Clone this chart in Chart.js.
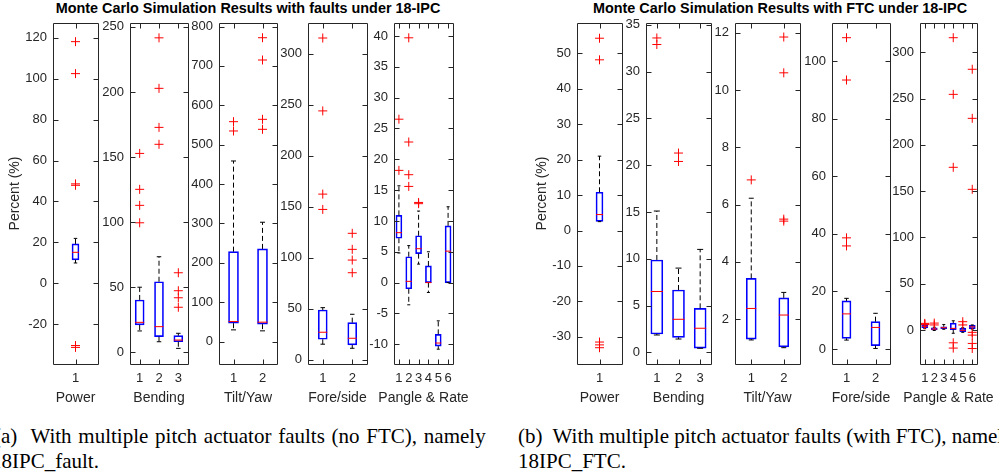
<!DOCTYPE html>
<html>
<head>
<meta charset="utf-8">
<script src="https://cdn.jsdelivr.net/npm/chart.js@4.4.1/dist/chart.umd.min.js"></script>
<style>
  html, body { margin: 0; padding: 0; background: #fff; }
  body { width: 999px; height: 476px; position: relative; overflow: hidden; }
  canvas { position: absolute; }
  .title { position: absolute; top: 0px; font: bold 14.4px "Liberation Sans", Arial, sans-serif; color: #000;
           white-space: nowrap; transform: translateX(-50%); }
  .cap { position: absolute; font: 21px "Liberation Serif", "Times New Roman", serif; color: #000;
         white-space: pre; line-height: 25px; }
</style>
</head>
<body>
<div class="title" style="left:248px">Monte Carlo Simulation Results with faults under 18-IPC</div>
<div class="title" style="left:780px">Monte Carlo Simulation Results with FTC under 18-IPC</div>
<div class="cap" style="left:-6px; top:424px; word-spacing:1.5px">(a)  With multiple pitch actuator faults (no FTC), namely</div>
<div class="cap" style="left:-9px; top:449px">18IPC_fault.</div>
<div class="cap" style="left:518px; top:424px">(b)  With multiple pitch actuator faults (with FTC), namely
18IPC_FTC.</div>

<script>
// Box statistics per signal: [lower whisker, Q1, median, Q3, upper whisker]
// ---- (a) faults, no FTC ----
const faultPowerStats = [[10, 11.5, 15.2, 19.3, 22]];
const faultPowerOutliers = [[118, 102.4, 48.6, 47.9, -30.3, -31.2]];

const faultBendingStats = [
  [16.4, 21, 23, 40.2, 50],
  [8.1, 12, 19.7, 54.2, 73.4],
  [3, 8.1, 9.4, 12.8, 14.6]
];
const faultBendingOutliers = [
  [152.8, 125.2, 112.9, 99.5],
  [241.6, 202.8, 172.8, 159.8],
  [61.1, 47.3, 41.9, 34.6]
];

const faultTiltYawStats = [
  [29.7, 46.7, 50.8, 228.4, 458.6],
  [27.2, 44.2, 49.2, 235.3, 303]
];
const faultTiltYawOutliers = [
  [558.4, 534.8],
  [771.6, 715, 564.4, 539]
];

const faultForeSideStats = [
  [15.4, 20.2, 27.1, 48.9, 51.2],
  [11.4, 14.7, 21.2, 36.5, 44.7]
];
const faultForeSideOutliers = [
  [315.3, 243.9, 162.4, 147.4],
  [124, 108.3, 97.8, 85.4]
];

const faultPangleStats = [
  [4.8, 7.2, 8.1, 10.9, 15.7],
  [-3.6, -1.0, 0.2, 4.2, 6.0],
  [3.0, 4.7, 5.5, 7.6, 11.6],
  [-1.6, 0, 0, 2.7, 5.0],
  [-10.8, -10.3, -9.8, -8.4, -6.2],
  [0, 0, 5.1, 9.2, 12.3]
];
const faultPangleOutliers = [
  [26.5, 18.2],
  [39.7, 22.8, 17.5, 15.6],
  [13.0, 12.8],
  [],
  [],
  []
];

// ---- (b) with FTC ----
const ftcPowerStats = [[2.5, 2.6, 4.5, 10.8, 21]];
const ftcPowerOutliers = [[54.3, 48.2, -31.5, -32.3, -33.1]];

const ftcBendingStats = [
  [1.85, 1.96, 6.5, 9.87, 15.1],
  [1.42, 1.6, 3.53, 6.66, 9.0],
  [0.43, 0.45, 2.57, 4.7, 11.0]
];
const ftcBendingOutliers = [
  [33.6, 32.9],
  [21.3, 20.4],
  []
];

const ftcTiltYawStats = [
  [1.27, 1.30, 2.37, 3.42, 6.22],
  [1.0, 1.03, 2.14, 2.74, 2.93]
];
const ftcTiltYawOutliers = [
  [6.86],
  [11.85, 10.6, 5.49, 5.42]
];

const ftcForeSideStats = [
  [3.1, 3.7, 12.2, 16.7, 17.6],
  [0.2, 1.2, 7.5, 9.5, 12.4]
];
const ftcForeSideOutliers = [
  [108.1, 93.4, 38.6, 35.8],
  []
];

const ftcPangleStats = [
  [1.5, 2.5, 4, 5.5, 6.5],
  [-0.5, 0, 1, 2.5, 3],
  [0.8, 1.5, 2.5, 3.5, 6],
  [-3.5, 0.5, 1.8, 7.5, 10],
  [-2.5, -1.8, -0.3, 1.8, 2.5],
  [1, 1.5, 3.4, 5, 5.5]
];
const ftcPangleOutliers = [
  [7.2, 6.4, 5.8],
  [7.5, 5.5],
  [],
  [315.8, 254.6, 175.8, -13.8, -19.5],
  [9, 5.5],
  [281.7, 228.7, 152, -2.5, -5.5, -14.5, -20]
];

// Category and tick labels
const cats1 = ['1'];
const cats2 = ['1', '2'];
const cats3 = ['1', '2', '3'];
const cats6 = ['1', '2', '3', '4', '5', '6'];

const faultPowerTicks = [-20, 0, 20, 40, 60, 80, 100, 120];
const faultBendingTicks = [0, 50, 100, 150, 200, 250];
const faultTiltYawTicks = [0, 100, 200, 300, 400, 500, 600, 700, 800];
const faultForeSideTicks = [0, 50, 100, 150, 200, 250, 300];
const faultPangleTicks = [-10, -5, 0, 5, 10, 15, 20, 25, 30, 35, 40];

const ftcPowerTicks = [-30, -20, -10, 0, 10, 20, 30, 40, 50];
const ftcBendingTicks = [0, 5, 10, 15, 20, 25, 30, 35];
const ftcTiltYawTicks = [2, 4, 6, 8, 10, 12];
const ftcForeSideTicks = [0, 20, 40, 60, 80, 100];
const ftcPangleTicks = [0, 50, 100, 150, 200, 250, 300];

const axisLabels = ['Power', 'Bending', 'Tilt/Yaw', 'Fore/side', 'Pangle & Rate'];

// Panel layout (axes box edges in page pixels) and axis limits
const panels = [
  { left: 53,  right: 98,  yMin: -39.3, yMax: 127.1, ticks: faultPowerTicks,    cats: cats1, stats: faultPowerStats,    outliers: faultPowerOutliers,    label: axisLabels[0], boxW: 7,  yTitle: true, yTitlePad: 6.6 },
  { left: 130, right: 188, yMin: -9,    yMax: 253,   ticks: faultBendingTicks,  cats: cats3, stats: faultBendingStats,  outliers: faultBendingOutliers,  label: axisLabels[1], boxW: 9 },
  { left: 219, right: 277, yMin: -57,   yMax: 809,   ticks: faultTiltYawTicks,  cats: cats2, stats: faultTiltYawStats,  outliers: faultTiltYawOutliers,  label: axisLabels[2], boxW: 10 },
  { left: 308, right: 367, yMin: -4,    yMax: 330,   ticks: faultForeSideTicks, cats: cats2, stats: faultForeSideStats, outliers: faultForeSideOutliers, label: axisLabels[3], boxW: 9 },
  { left: 394, right: 453, yMin: -13.2, yMax: 42.1,  ticks: faultPangleTicks,   cats: cats6, stats: faultPangleStats,   outliers: faultPangleOutliers,   label: axisLabels[4], boxW: 6 },
  { left: 577, right: 622, yMin: -37.7, yMax: 58.6,  ticks: ftcPowerTicks,      cats: cats1, stats: ftcPowerStats,      outliers: ftcPowerOutliers,      label: axisLabels[0], boxW: 7,  yTitle: true, yTitlePad: 9.3 },
  { left: 646, right: 711, yMin: -1.25, yMax: 35.2,  ticks: ftcBendingTicks,    cats: cats3, stats: ftcBendingStats,    outliers: ftcBendingOutliers,    label: axisLabels[1], boxW: 12 },
  { left: 735, right: 800, yMin: 0.43,  yMax: 12.34, ticks: ftcTiltYawTicks,    cats: cats2, stats: ftcTiltYawStats,    outliers: ftcTiltYawOutliers,    label: axisLabels[2], boxW: 10 },
  { left: 832, right: 890, yMin: -5.2,  yMax: 113.2, ticks: ftcForeSideTicks,   cats: cats2, stats: ftcForeSideStats,   outliers: ftcForeSideOutliers,   label: axisLabels[3], boxW: 9 },
  { left: 920, right: 977, yMin: -36.7, yMax: 331.7, ticks: ftcPangleTicks,     cats: cats6, stats: ftcPangleStats,     outliers: ftcPangleOutliers,     label: axisLabels[4], boxW: 6 }
];

const FONT_FAMILY = '"Liberation Sans", Arial, Helvetica, sans-serif';
Chart.defaults.font.family = FONT_FAMILY;
Chart.defaults.color = '#262626';

const AXIS_COLOR = '#262626';
const TICK_LEN = 5;
const AREA_TOP = 23, AREA_BOTTOM = 364, CANVAS_TOP = 13, CANVAS_BOTTOM = 410;
const XTITLE_Y = 398;
const PAD_TOP = AREA_TOP - CANVAS_TOP, PAD_RIGHT = 22;

// Boxed axes with inward tick marks on all four sides, plus the x-axis caption
const boxedAxes = {
  id: 'boxedAxes',
  afterDraw(chart, args, opts) {
    const { ctx, chartArea: a, scales: { x, y } } = chart;
    const L = Math.round(a.left) + 0.5, R = Math.round(a.right) + 0.5;
    const T = Math.round(a.top) + 0.5, B = Math.round(a.bottom) + 0.5;
    ctx.save();
    ctx.strokeStyle = AXIS_COLOR;
    ctx.lineWidth = 1;
    ctx.beginPath();
    y.ticks.forEach(t => {
      const py = Math.round(y.getPixelForValue(t.value)) + 0.5;
      ctx.moveTo(L, py); ctx.lineTo(L + TICK_LEN, py);
      ctx.moveTo(R, py); ctx.lineTo(R - TICK_LEN, py);
    });
    x.ticks.forEach(t => {
      const px = Math.round(x.getPixelForValue(t.value)) + 0.5;
      ctx.moveTo(px, B); ctx.lineTo(px, B - TICK_LEN);
      ctx.moveTo(px, T); ctx.lineTo(px, T + TICK_LEN);
    });
    ctx.rect(L, T, R - L, B - T);
    ctx.stroke();

    ctx.fillStyle = AXIS_COLOR;
    ctx.font = '14px ' + FONT_FAMILY;
    ctx.textAlign = 'center';
    ctx.textBaseline = 'middle';
    ctx.fillText(opts.text, (a.left + a.right) / 2, XTITLE_Y - CANVAS_TOP);
    ctx.restore();
  }
};

panels.forEach(p => {
  const yAxisW = p.yTitle ? 53 : 32;
  const canvas = document.createElement('canvas');
  const w = yAxisW + (p.right - p.left) + PAD_RIGHT;
  const h = CANVAS_BOTTOM - CANVAS_TOP;
  canvas.width = w; canvas.height = h;
  canvas.style.left = (p.left - yAxisW) + 'px';
  canvas.style.top = CANVAS_TOP + 'px';
  canvas.style.width = w + 'px';
  canvas.style.height = h + 'px';
  document.body.appendChild(canvas);

  const n = p.stats.length;
  const positions = p.stats.map((_, i) => i + 1);
  const boxes = p.stats.map((s, i) => ({ x: i + 1, y: [s[1], s[3]] }));
  const medians = p.stats.map((s, i) => ({ x: i + 1, y: s[2] }));
  const whiskers = [];
  p.stats.forEach((s, i) => {
    whiskers.push({ x: i + 1, y: s[3] }, { x: i + 1, y: s[4] }, { x: i + 1, y: null });
    whiskers.push({ x: i + 1, y: s[1] }, { x: i + 1, y: s[0] }, { x: i + 1, y: null });
  });
  const caps = p.stats.flatMap((s, i) => [{ x: i + 1, y: s[0] }, { x: i + 1, y: s[4] }]);
  const outliers = p.outliers.flatMap((arr, i) => arr.map(v => ({ x: i + 1, y: v })));

  new Chart(canvas, {
    type: 'scatter',
    data: {
      datasets: [
        { type: 'scatter', data: medians, pointStyle: 'line', pointRadius: p.boxW / 2, borderColor: '#ff0000', borderWidth: 1, order: 0 },
        { type: 'scatter', data: outliers, pointStyle: 'cross', pointRadius: 4.5, borderColor: '#ff0000', borderWidth: 1, order: 1 },
        { type: 'scatter', data: caps, pointStyle: 'line', pointRadius: p.boxW / 4, borderColor: '#000000', borderWidth: 1, order: 2 },
        { type: 'line', data: whiskers, borderColor: '#000000', borderWidth: 1, borderDash: [5, 3], pointRadius: 0, spanGaps: false, fill: false, order: 3 },
        { type: 'bar', data: boxes, backgroundColor: 'rgba(0,0,0,0)', borderColor: '#0000ff', borderWidth: 1, borderSkipped: false, barThickness: p.boxW, order: 4 }
      ]
    },
    options: {
      responsive: false,
      animation: false,
      events: [],
      layout: { padding: { top: PAD_TOP, right: PAD_RIGHT, left: 0, bottom: 0 } },
      plugins: { legend: { display: false }, tooltip: { enabled: false }, boxedAxes: { text: p.label } },
      scales: {
        x: {
          type: 'linear', bounds: 'data', min: 0.5, max: n + 0.5, offset: false,
          afterBuildTicks: s => { s.ticks = positions.map(v => ({ value: v })); },
          afterFit: s => { s.height = CANVAS_BOTTOM - AREA_BOTTOM; s.paddingLeft = 0; s.paddingRight = 0; },
          grid: { display: false, drawTicks: false },
          border: { display: false },
          ticks: { padding: 7, autoSkip: false, maxRotation: 0, font: { size: 13 }, color: AXIS_COLOR,
                   callback: v => p.cats[Math.round(v) - 1] },
          title: { display: false }
        },
        y: {
          type: 'linear', bounds: 'data', min: p.yMin, max: p.yMax,
          afterBuildTicks: s => { s.ticks = p.ticks.map(v => ({ value: v })); },
          afterFit: s => { s.width = yAxisW; s.paddingTop = 0; s.paddingBottom = 0; },
          grid: { display: false, drawTicks: false },
          border: { display: false },
          ticks: { padding: 6, autoSkip: false, font: { size: 13 }, color: AXIS_COLOR, callback: v => String(v) },
          title: p.yTitle
            ? { display: true, text: 'Percent (%)', font: { size: 14 }, color: AXIS_COLOR, padding: { top: p.yTitlePad, bottom: 0 } }
            : { display: false }
        }
      }
    },
    plugins: [boxedAxes]
  });
});
</script>
</body>
</html>
